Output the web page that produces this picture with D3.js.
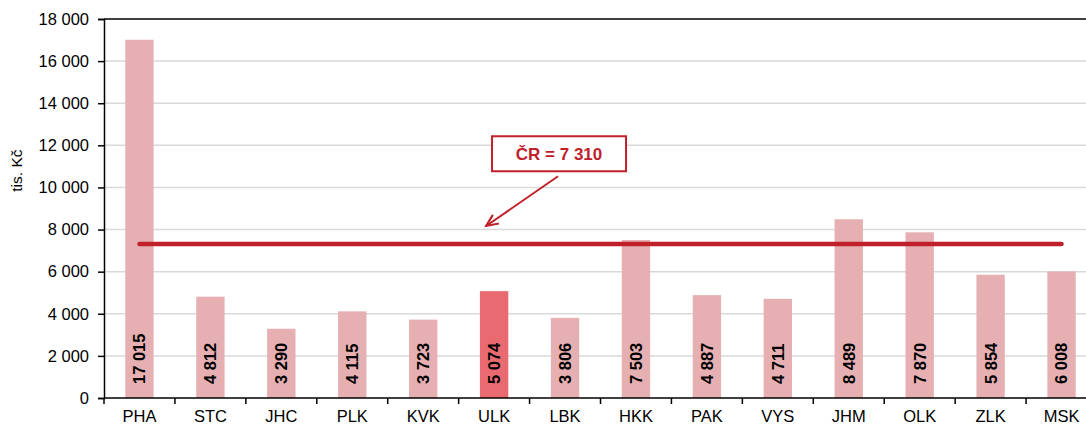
<!DOCTYPE html>
<html>
<head>
<meta charset="utf-8">
<script src="https://cdn.jsdelivr.net/npm/d3@7"></script>
<style>
  html, body { margin: 0; padding: 0; background: #fff; }
  svg { display: block; font-family: Arial, "Liberation Sans", sans-serif; }
</style>
</head>
<body>
<div id="chart"></div>
<script>
// regions and values (tis. Kč)
const regions = ['PHA', 'STC', 'JHC', 'PLK', 'KVK', 'ULK', 'LBK', 'HKK', 'PAK', 'VYS', 'JHM', 'OLK', 'ZLK', 'MSK'];
const values = [17015, 4812, 3290, 4115, 3723, 5074, 3806, 7503, 4887, 4711, 8489, 7870, 5854, 6008];
const highlighted = ['ULK'];
const avgValue = 7310;
const avgLabel = 'ČR = 7 310';
const yTicks = [0, 2000, 4000, 6000, 8000, 10000, 12000, 14000, 16000, 18000];
const yTitle = 'tis. Kč';

const width = 1086, height = 426;
const margin = { top: 19, right: -11, bottom: 28, left: 104 };

const fmt = v => d3.format(',')(v).replace(/,/g, ' ');

const svg = d3.select('#chart').append('svg')
    .attr('width', width)
    .attr('height', height);

const x = d3.scaleBand()
    .domain(regions)
    .range([margin.left, width - margin.right])
    .paddingInner(0.6)
    .paddingOuter(0.3);

const y = d3.scaleLinear()
    .domain([0, 18000])
    .range([height - margin.bottom, margin.top]);

const step = x.step();
const x0 = margin.left;
const x1 = width - margin.right;

// gridlines
svg.append('g')
    .selectAll('line')
    .data(yTicks.filter(t => t > 0 && t < 18000))
    .join('line')
    .attr('x1', x0).attr('x2', x1)
    .attr('y1', d => y(d)).attr('y2', d => y(d))
    .attr('stroke', '#d9d9d9')
    .attr('stroke-width', 1.5);

// top border
svg.append('line')
    .attr('x1', x0).attr('x2', x1)
    .attr('y1', y(18000)).attr('y2', y(18000))
    .attr('stroke', '#000')
    .attr('stroke-width', 1.5);

// bars
svg.append('g')
    .selectAll('rect')
    .data(regions)
    .join('rect')
    .attr('x', d => x(d))
    .attr('y', (d, i) => y(values[i]))
    .attr('width', x.bandwidth())
    .attr('height', (d, i) => y(0) - y(values[i]))
    .attr('fill', d => highlighted.includes(d) ? '#e96b71' : '#e6b0b3');

// y axis
const yAxis = svg.append('g')
    .attr('transform', `translate(${x0},0)`)
    .call(d3.axisLeft(y).tickValues(yTicks).tickFormat(fmt).tickSize(6).tickPadding(9));
yAxis.select('.domain').attr('stroke', '#000').attr('stroke-width', 1.5);
yAxis.selectAll('.tick line').attr('stroke', '#000').attr('stroke-width', 1.5);
yAxis.selectAll('.tick text')
    .attr('font-size', 16.5)
    .attr('font-family', 'Arial, "Liberation Sans", sans-serif')
    .attr('fill', '#000');

// x axis
svg.append('line')
    .attr('x1', x0).attr('x2', x1)
    .attr('y1', y(0)).attr('y2', y(0))
    .attr('stroke', '#000')
    .attr('stroke-width', 1.5);

svg.append('g')
    .selectAll('line')
    .data(d3.range(regions.length + 1))
    .join('line')
    .attr('x1', i => x0 + i * step).attr('x2', i => x0 + i * step)
    .attr('y1', y(0)).attr('y2', y(0) + 6)
    .attr('stroke', '#000')
    .attr('stroke-width', 1.5);

svg.append('g')
    .selectAll('text')
    .data(regions)
    .join('text')
    .attr('x', d => x(d) + x.bandwidth() / 2)
    .attr('y', y(0) + 24)
    .attr('text-anchor', 'middle')
    .attr('font-size', 16.5)
    .attr('fill', '#000')
    .text(d => d);

// y title
svg.append('text')
    .attr('transform', `translate(22,${y(10800)}) rotate(-90)`)
    .attr('text-anchor', 'middle')
    .attr('font-size', 15.5)
    .attr('fill', '#000')
    .text(yTitle);

// value labels
svg.append('g')
    .selectAll('text')
    .data(regions)
    .join('text')
    .attr('transform', d => `translate(${x(d) + x.bandwidth() / 2},${y(0) - 14}) rotate(-90)`)
    .attr('dy', '0.36em')
    .attr('font-size', 16.5)
    .attr('font-weight', 'bold')
    .attr('fill', '#000')
    .text((d, i) => fmt(values[i]));

// average line
const first = regions[0], last = regions[regions.length - 1];
svg.append('line')
    .attr('x1', x(first) + x.bandwidth() / 2)
    .attr('x2', x(last) + x.bandwidth() / 2)
    .attr('y1', y(avgValue)).attr('y2', y(avgValue))
    .attr('stroke', '#c0202a')
    .attr('stroke-width', 4.5)
    .attr('stroke-linecap', 'round');

// annotation box + arrow
const boxCx = x('LBK') + x.bandwidth() / 2 - 6;
const boxCy = y(11600);
const boxW = 134, boxH = 35;
svg.append('rect')
    .attr('x', boxCx - boxW / 2)
    .attr('y', boxCy - boxH / 2)
    .attr('width', boxW)
    .attr('height', boxH)
    .attr('fill', '#fff')
    .attr('stroke', '#c0202a')
    .attr('stroke-width', 2);
svg.append('text')
    .attr('x', boxCx)
    .attr('y', boxCy)
    .attr('dy', '0.36em')
    .attr('text-anchor', 'middle')
    .attr('font-size', 17)
    .attr('font-weight', 'bold')
    .attr('fill', '#c0202a')
    .text(avgLabel);

const ax1 = boxCx - 1, ay1 = boxCy + boxH / 2 + 5;
const ax2 = x('ULK') + x.bandwidth() / 2 - 8, ay2 = y(8170);
svg.append('line')
    .attr('x1', ax1).attr('y1', ay1)
    .attr('x2', ax2).attr('y2', ay2)
    .attr('stroke', '#c0202a')
    .attr('stroke-width', 2);
const ang = Math.atan2(ay1 - ay2, ax1 - ax2);
const head = 13, spread = 0.42;
svg.append('path')
    .attr('d', `M${ax2 + head * Math.cos(ang - spread)},${ay2 + head * Math.sin(ang - spread)}L${ax2},${ay2}L${ax2 + head * Math.cos(ang + spread)},${ay2 + head * Math.sin(ang + spread)}`)
    .attr('fill', 'none')
    .attr('stroke', '#c0202a')
    .attr('stroke-width', 2);
</script>
</body>
</html>
